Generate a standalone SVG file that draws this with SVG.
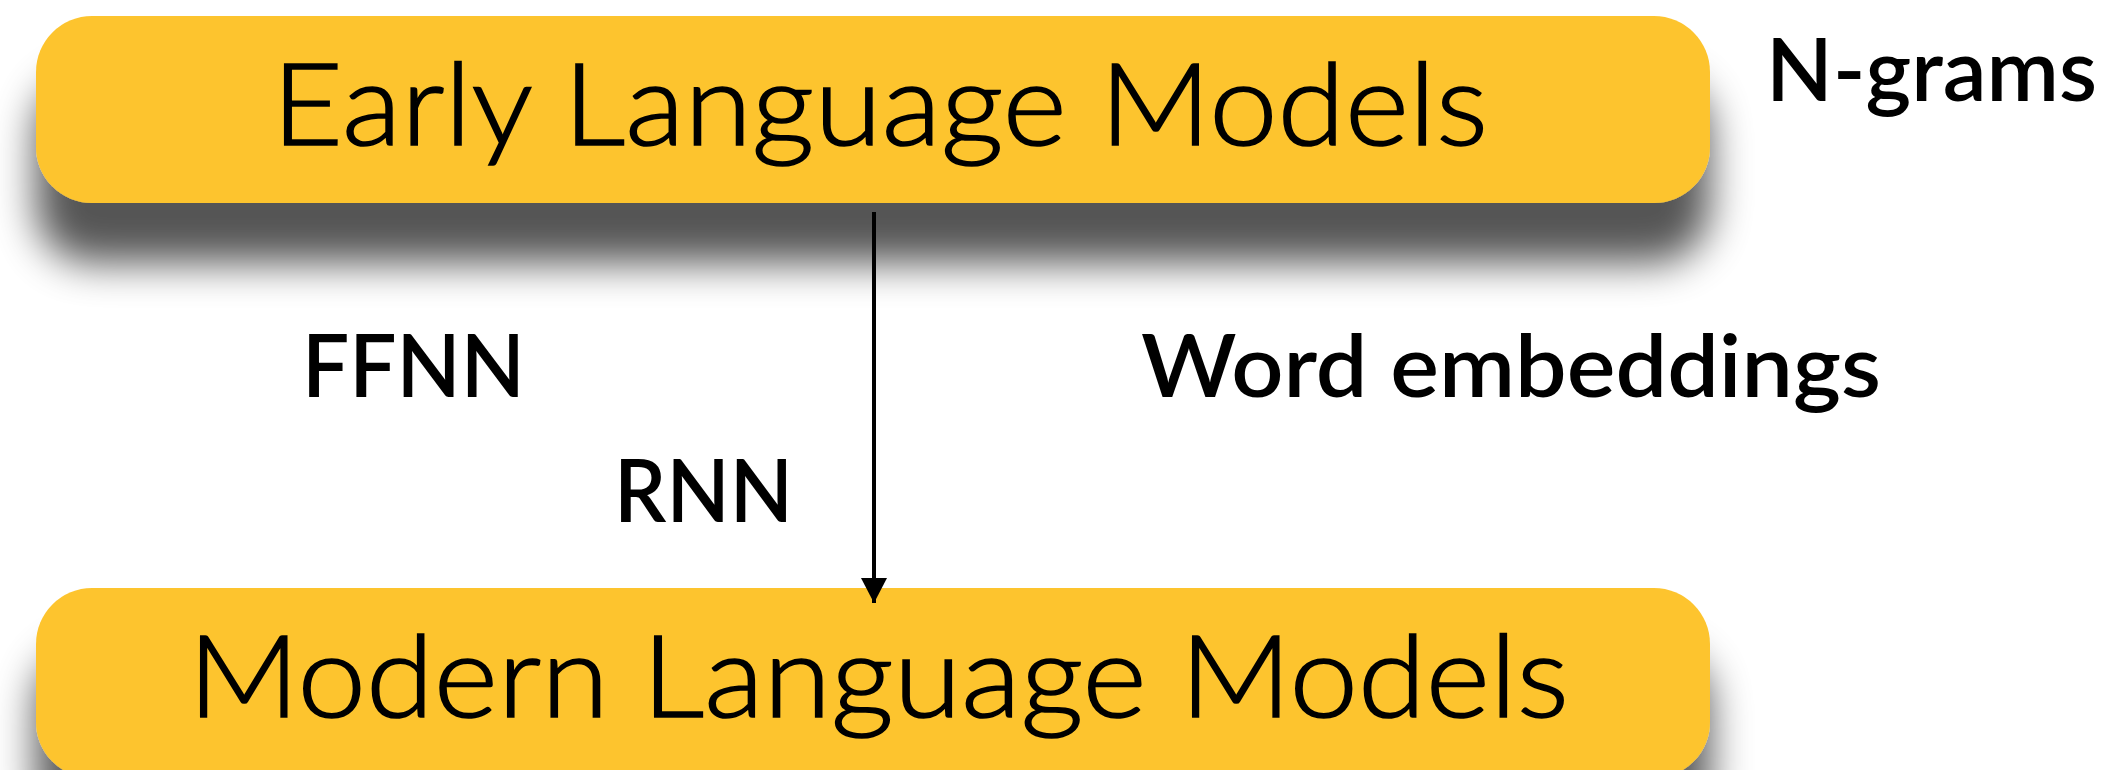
<svg xmlns="http://www.w3.org/2000/svg" width="2121" height="770" viewBox="0 0 2121 770">
  <defs>
    <!-- soft drop shadow cast downward beneath each box -->
    <filter id="drop" x="-10%" y="-40%" width="120%" height="200%">
      <feGaussianBlur in="SourceAlpha" stdDeviation="20"/>
      <feOffset dy="60" result="blur"/>
      <feComponentTransfer>
        <feFuncA type="linear" slope="0.67"/>
      </feComponentTransfer>
      <feMerge>
        <feMergeNode/>
        <feMergeNode in="SourceGraphic"/>
      </feMerge>
    </filter>
    <!-- solid triangular arrowhead, drawn along +x and rotated with the line -->
    <marker id="head" viewBox="0 0 25 26" refX="25" refY="13" markerWidth="25" markerHeight="26" markerUnits="userSpaceOnUse" orient="auto">
      <polygon points="0,0 25,13 0,26" fill="#000"/>
    </marker>
  </defs>
  <style>
    .box { fill: #FDC42F; filter: url(#drop); }
    .title { font-family: "Lato", "Liberation Sans", sans-serif; font-weight: 300; font-size: 114px; fill: #000; stroke: #000; stroke-width: 1.6px; }
    .label { font-family: "Lato", "Liberation Sans", sans-serif; font-weight: 600; font-size: 86px; fill: #000; }
  </style>
  <rect width="2121" height="770" fill="#fff"/>

  <g id="modern-models">
    <rect class="box" x="36" y="588" width="1674" height="190" rx="56" ry="56"/>
    <text class="title" x="188" y="717" textLength="1381" lengthAdjust="spacingAndGlyphs">Modern Language Models</text>
  </g>

  <g id="early-models">
    <rect class="box" x="36" y="16" width="1674" height="187" rx="56" ry="56"/>
    <text class="title" x="272" y="145" textLength="1216" lengthAdjust="spacingAndGlyphs">Early Language Models</text>
  </g>

  <g id="connectors">
    <line x1="874" y1="212" x2="874" y2="603" stroke="#000" stroke-width="4" marker-end="url(#head)"/>
  </g>

  <g id="label-ngrams">
    <text class="label" x="1766" y="101" textLength="331" lengthAdjust="spacingAndGlyphs">N-grams</text>
  </g>
  <g id="label-ffnn">
    <text class="label" x="302" y="397" textLength="223" lengthAdjust="spacingAndGlyphs">FFNN</text>
  </g>
  <g id="label-word-embeddings">
    <text class="label" x="1141" y="397" textLength="740" lengthAdjust="spacingAndGlyphs">Word embeddings</text>
  </g>
  <g id="label-rnn">
    <text class="label" x="614" y="522" textLength="179" lengthAdjust="spacingAndGlyphs">RNN</text>
  </g>
</svg>
